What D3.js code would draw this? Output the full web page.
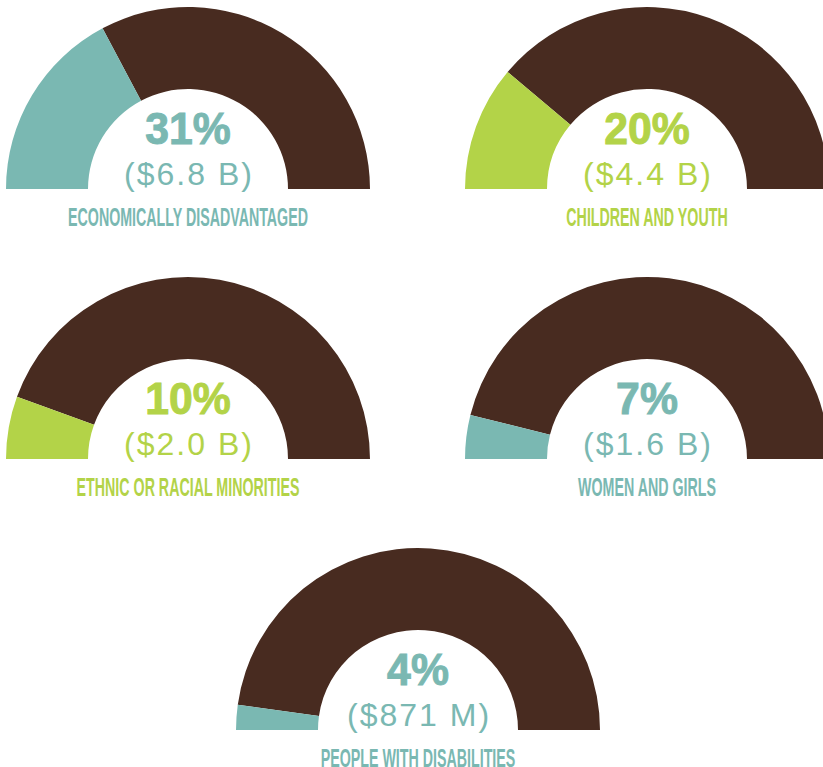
<!DOCTYPE html>
<html>
<head>
<meta charset="utf-8">
<script src="https://cdn.jsdelivr.net/npm/d3@7"></script>
<style>
  html, body { margin: 0; padding: 0; background: #ffffff; }
  svg { display: block; }
</style>
</head>
<body>
<svg id="chart" width="823" height="767"></svg>
<script>
// ---- data ----
const categories = [
  "ECONOMICALLY DISADVANTAGED",
  "CHILDREN AND YOUTH",
  "ETHNIC OR RACIAL MINORITIES",
  "WOMEN AND GIRLS",
  "PEOPLE WITH DISABILITIES"
];
const percents = [31, 20, 10, 7, 4];
const amounts = ["($6.8 B)", "($4.4 B)", "($2.0 B)", "($1.6 B)", "($871 M)"];
const colorKeys = ["teal", "green", "green", "teal", "teal"];

// ---- styles / layout ----
const palette = { teal: "#7ab8b2", green: "#b3d348", rest: "#482b20" };
const centers = [[188, 189], [647, 189], [188, 459], [647, 459], [418, 730]];
const outerR = 182, innerR = 100;

const svg = d3.select("#chart");

// gauge scale: value -> angle along the half circle
const angle = d3.scaleLinear().domain([0, 90]).range([0, Math.PI]);
const arc = d3.arc().innerRadius(innerR).outerRadius(outerR);

const g = svg.selectAll("g.gauge")
  .data(categories.map((c, i) => ({ c, p: percents[i], a: amounts[i], col: palette[colorKeys[i]], pos: centers[i] })))
  .enter().append("g")
  .attr("class", "gauge")
  .attr("transform", d => `translate(${d.pos[0]},${d.pos[1]})`);

// remainder (brown)
g.append("path")
  .attr("fill", palette.rest)
  .attr("d", d => arc({ startAngle: -Math.PI / 2 + angle(d.p), endAngle: Math.PI / 2 }));

// share slice
g.append("path")
  .attr("fill", d => d.col)
  .attr("d", d => arc({ startAngle: -Math.PI / 2, endAngle: -Math.PI / 2 + angle(d.p) }));

// percentage
g.append("text")
  .attr("transform", "translate(0,-45) scale(0.95,1)")
  .attr("text-anchor", "middle")
  .attr("fill", d => d.col)
  .attr("stroke", d => d.col)
  .attr("stroke-width", 1)
  .style("font-family", "'Liberation Sans', Arial, sans-serif")
  .style("font-weight", "bold")
  .style("font-size", "45px")
  .text(d => d.p + "%");

// amount
g.append("text")
  .attr("x", 1).attr("y", -4)
  .attr("text-anchor", "middle")
  .attr("fill", d => d.col)
  .style("font-family", "'Liberation Sans', Arial, sans-serif")
  .style("font-size", "32px")
  .style("letter-spacing", "2px")
  .text(d => d.a);

// category label (condensed)
g.append("text")
  .attr("transform", "translate(0,36.5) scale(0.57,1)")
  .attr("text-anchor", "middle")
  .attr("fill", d => d.col)
  .style("font-family", "'Liberation Sans Narrow', 'Liberation Sans', Arial, sans-serif")
  .style("font-weight", "bold")
  .style("font-size", "25px")
  .text(d => d.c);
</script>
</body>
</html>
